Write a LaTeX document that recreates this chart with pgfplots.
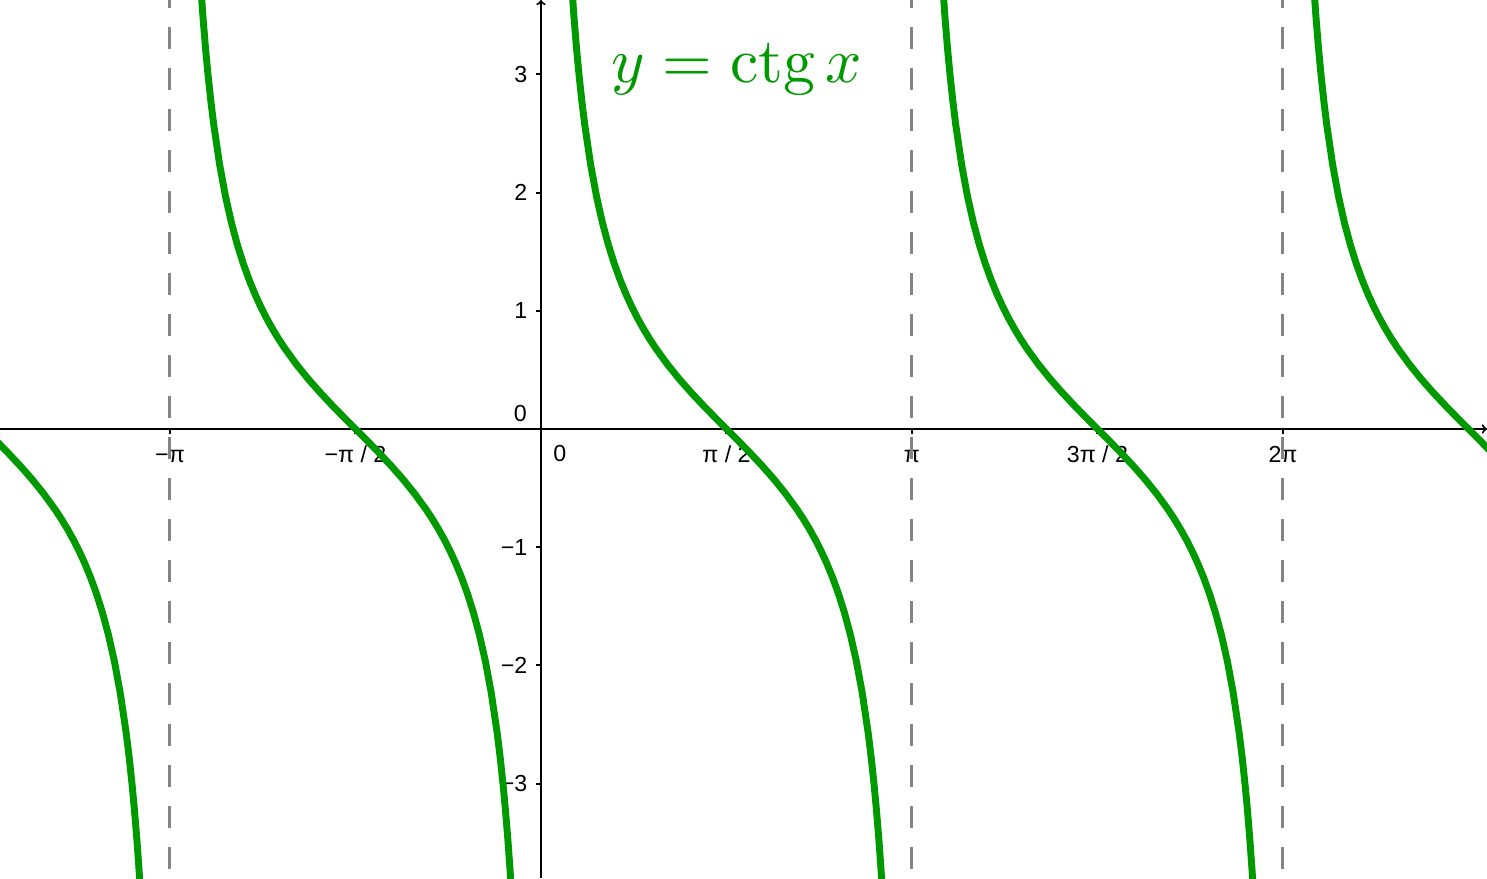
\documentclass[border=0pt]{standalone}
\usepackage{pgfplots}
\pgfplotsset{compat=1.18}
\usepackage{pgfplotstable}
\usepackage{graphicx}
\usepackage{fontspec}
\newfontfamily\arial{Liberation Sans}
\definecolor{ggreen}{RGB}{0,153,0}
\definecolor{ggray}{RGB}{132,132,132}

% one branch of ctg around its zero: d = x - (pi/2 + k pi), t = tan(d), y = -t
\pgfplotstableread{
d t
-1.35 -4.4551
-1.33 -4.0722
-1.31 -3.7470
-1.29 -3.4671
-1.27 -3.2236
-1.25 -3.0096
-1.225 -2.7756
-1.2 -2.572152
-1.15 -2.234742
-1.1 -1.964760
-1.05 -1.743315
-1.0 -1.557408
-0.95 -1.398383
-0.9 -1.260158
-0.85 -1.138330
-0.8 -1.029639
-0.75 -0.931596
-0.7 -0.842288
-0.65 -0.760204
-0.6 -0.684137
-0.5 -0.546302
-0.4 -0.422793
-0.3 -0.309336
-0.2 -0.202710
-0.1 -0.100335
0 0
0.1 0.100335
0.2 0.202710
0.3 0.309336
0.4 0.422793
0.5 0.546302
0.6 0.684137
0.65 0.760204
0.7 0.842288
0.75 0.931596
0.8 1.029639
0.85 1.138330
0.9 1.260158
0.95 1.398383
1.0 1.557408
1.05 1.743315
1.1 1.964760
1.15 2.234742
1.2 2.572152
1.225 2.7756
1.25 3.0096
1.27 3.2236
1.29 3.4671
1.31 3.7470
1.33 4.0722
1.35 4.4551
}\branch

\begin{document}
\begin{tikzpicture}
\begin{axis}[
  scale only axis,
  width=1115.25pt, height=658.5pt,
  xmin=-4.581, xmax=8.011,
  ymin=-3.799, ymax=3.629,
  axis lines=middle,
  axis line style={black, line width=1.5pt, ->},
  /pgf/number format/assume math mode=true,
  tick align=outside,
  major tick length=3.75pt,
  tick style={black, line width=1.5pt},
  xtick={-3.14159,-1.5708,1.5708,3.14159,4.71239,6.28319},
  xticklabels={−π, −π / 2, π / 2, π, 3π / 2, 2π},
  ytick={-3,-2,-1,1,2,3},
  yticklabels={−3,−2,−1,1,2,3},
  xticklabel style={font=\arial\fontsize{17.4}{20}\selectfont, anchor=north, text height=12.7pt, text depth=3pt, yshift=-5.25pt},
  yticklabel style={font=\arial\fontsize{17.4}{20}\selectfont, anchor=east, xshift=-3pt},
  clip=true,
]
\addplot[ggray, line width=2.25pt, dash pattern=on 16.5pt off 14.25pt, dash phase=10.5pt] coordinates {(-3.14159,3.629) (-3.14159,-3.799)};
\addplot[ggray, line width=2.25pt, dash pattern=on 16.5pt off 14.25pt, dash phase=10.5pt] coordinates {(3.14159,3.629) (3.14159,-3.799)};
\addplot[ggray, line width=2.25pt, dash pattern=on 16.5pt off 14.25pt, dash phase=10.5pt] coordinates {(6.28319,3.629) (6.28319,-3.799)};

\addplot[ggreen, line width=5.2pt, line join=round] table[x expr=\thisrow{d}-4.71239, y expr=-\thisrow{t}] {\branch};
\addplot[ggreen, line width=5.2pt, line join=round] table[x expr=\thisrow{d}-1.5708, y expr=-\thisrow{t}] {\branch};
\addplot[ggreen, line width=5.2pt, line join=round] table[x expr=\thisrow{d}+1.5708, y expr=-\thisrow{t}] {\branch};
\addplot[ggreen, line width=5.2pt, line join=round] table[x expr=\thisrow{d}+4.71239, y expr=-\thisrow{t}] {\branch};
\addplot[ggreen, line width=5.2pt, line join=round] table[x expr=\thisrow{d}+7.85398, y expr=-\thisrow{t}] {\branch};

\node[font=\arial\fontsize{17.4}{20}\selectfont, anchor=east, inner sep=0pt] at (axis cs:-0.118,0.135) {0};
\node[font=\arial\fontsize{17.4}{20}\selectfont] at (axis cs:0.16,-0.205) {0};
\node[text=ggreen, inner sep=0pt] at (axis cs:1.66,3.04) {\resizebox{188pt}{!}{$y=\mathrm{ctg}\,x$}};
\end{axis}
\pgfresetboundingbox
\useasboundingbox (current axis.south west) rectangle (current axis.north east);
\end{tikzpicture}
\end{document}
